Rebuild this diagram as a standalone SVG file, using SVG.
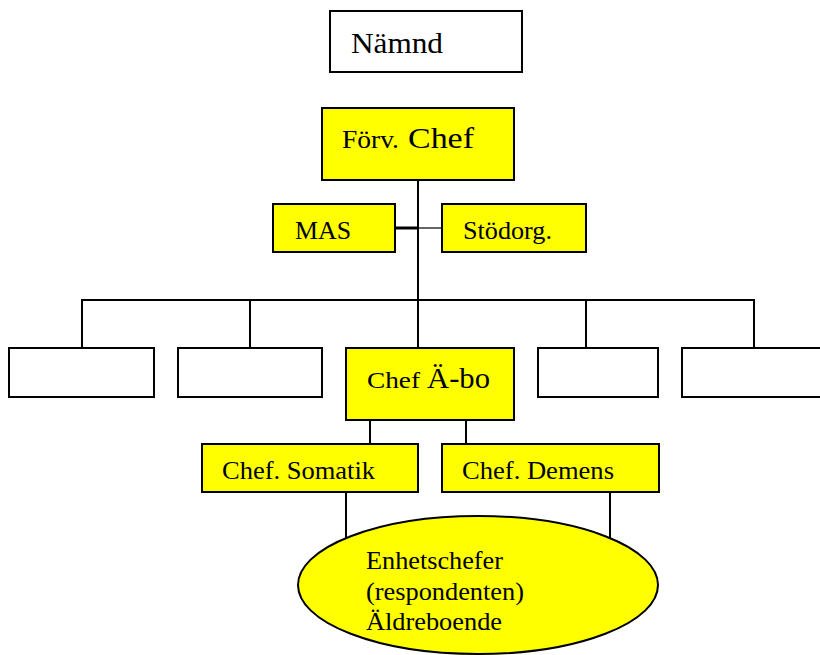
<svg xmlns="http://www.w3.org/2000/svg" width="820" height="655" viewBox="0 0 820 655">
<style>
.box{stroke:#000;stroke-width:2}
.y{fill:#ffff00}
.w{fill:#fff}
.t{font-family:"Liberation Serif","Times New Roman",serif;fill:#000}
.c{stroke:#000;stroke-width:2;fill:none}
</style>
<rect width="820" height="655" fill="#fff"/>
<g id="connectors">
<line class="c" x1="418" y1="180" x2="418" y2="301"/>
<line x1="395" y1="228" x2="418" y2="228" stroke="#000" stroke-width="3"/>
<line x1="418" y1="228" x2="442" y2="228" stroke="#000" stroke-width="1.2"/>
<line class="c" x1="81" y1="300" x2="755" y2="300"/>
<line class="c" x1="82" y1="300" x2="82" y2="348"/>
<line class="c" x1="250" y1="300" x2="250" y2="348"/>
<line class="c" x1="418" y1="300" x2="418" y2="348"/>
<line class="c" x1="586" y1="300" x2="586" y2="348"/>
<line class="c" x1="754" y1="300" x2="754" y2="348"/>
<line class="c" x1="370" y1="420" x2="370" y2="444"/>
<line class="c" x1="466" y1="420" x2="466" y2="444"/>
<line class="c" x1="346" y1="492" x2="346" y2="540"/>
<line class="c" x1="610" y1="492" x2="610" y2="540"/>
</g>
<g id="namnd">
<rect class="box w" x="330" y="11" width="192" height="61"/>
<text class="t" x="351" y="53" font-size="30" textLength="92" lengthAdjust="spacingAndGlyphs">Nämnd</text>
</g>
<g id="forv-chef">
<rect class="box y" x="322" y="108" width="192" height="72"/>
<text class="t" x="342" y="148" font-size="26" textLength="57" lengthAdjust="spacingAndGlyphs">Förv.</text>
<text class="t" x="408" y="148" font-size="30" textLength="66" lengthAdjust="spacingAndGlyphs">Chef</text>
</g>
<g id="mas">
<rect class="box y" x="273" y="204" width="122" height="48"/>
<text class="t" x="295" y="239" font-size="25" textLength="56" lengthAdjust="spacingAndGlyphs">MAS</text>
</g>
<g id="stodorg">
<rect class="box y" x="442" y="204" width="144" height="48"/>
<text class="t" x="463" y="239" font-size="25" textLength="89" lengthAdjust="spacingAndGlyphs">Stödorg.</text>
</g>
<g id="box1"><rect class="box w" x="9" y="348" width="145" height="49"/></g>
<g id="box2"><rect class="box w" x="178" y="348" width="144" height="49"/></g>
<g id="chef-abo">
<rect class="box y" x="346" y="348" width="168" height="72"/>
<text class="t" x="367" y="388" font-size="24" textLength="53" lengthAdjust="spacingAndGlyphs">Chef</text>
<text class="t" x="427" y="388" font-size="29" textLength="63" lengthAdjust="spacingAndGlyphs">Ä-bo</text>
</g>
<g id="box4"><rect class="box w" x="538" y="348" width="120" height="49"/></g>
<g id="box5"><rect class="box w" x="682" y="348" width="150" height="49"/></g>
<g id="chef-somatik">
<rect class="box y" x="202" y="444" width="216" height="48"/>
<text class="t" x="222" y="479" font-size="25" textLength="153" lengthAdjust="spacingAndGlyphs">Chef. Somatik</text>
</g>
<g id="chef-demens">
<rect class="box y" x="442" y="444" width="217" height="48"/>
<text class="t" x="462" y="479" font-size="25" textLength="152" lengthAdjust="spacingAndGlyphs">Chef. Demens</text>
</g>
<g id="enhetschefer">
<ellipse class="box y" cx="478" cy="585" rx="180" ry="69"/>
<text class="t" x="366" y="569" font-size="25" textLength="137" lengthAdjust="spacingAndGlyphs">Enhetschefer</text>
<text class="t" x="366" y="600" font-size="25" textLength="158" lengthAdjust="spacingAndGlyphs">(respondenten)</text>
<text class="t" x="366" y="630" font-size="25" textLength="136" lengthAdjust="spacingAndGlyphs">Äldreboende</text>
</g>
</svg>
